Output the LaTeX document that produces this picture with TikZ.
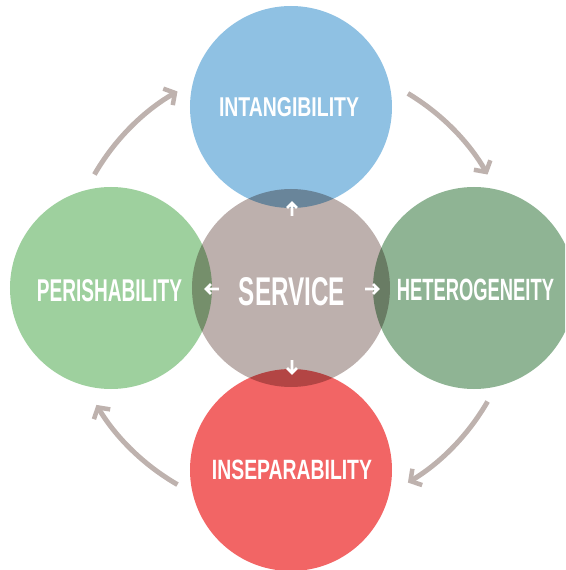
\documentclass[tikz,border=0pt]{standalone}
\usepackage{fontspec}
\setmainfont{Liberation Sans}
\usepackage{graphicx}
\usetikzlibrary{arrows.meta}

\definecolor{skyblue}{HTML}{8FC1E3}
\definecolor{leafgreen}{HTML}{9ED09E}
\definecolor{sagegreen}{HTML}{8FB494}
\definecolor{coralred}{HTML}{F26565}
\definecolor{taupe}{HTML}{BDB0AD}
\definecolor{cyclegrey}{HTML}{BEB2AE}

% condensed label: text stretched to a given width and cap height
\newcommand{\fitlabel}[3]{\resizebox{#1}{#2}{\bfseries #3}}

\begin{document}
\begin{tikzpicture}[x=1pt,y=1pt,
  petal/.style={circle, inner sep=0pt, minimum size=202pt},
  caption/.style={text=white, inner sep=0pt, anchor=center},
  cyclearrow/.style={draw=cyclegrey, line width=5pt,
    -{Straight Barb[length=8pt,width=19pt,line width=4.5pt]}},
  pointer/.style={draw=white, line width=2.6pt, line join=miter}]

\useasboundingbox (-291,-282) rectangle (274,288);
\clip (-291,-282) rectangle (274,288);

% the four characteristics
\node[petal, fill=skyblue]   (intang) at (0,181)  {};
\node[petal, fill=leafgreen] (perish) at (-180,0) {};
\node[petal, fill=sagegreen] (hetero) at (183,0)  {};
\node[petal, fill=coralred]  (insep)  at (0,-182) {};

\node[caption] (intangT) at (-2,180.5)   {\fitlabel{140pt}{19pt}{INTANGIBILITY}};
\node[caption] (perishT) at (-181.5,-2.5){\fitlabel{145pt}{22pt}{PERISHABILITY}};
\node[caption] (heteroT) at (184.5,-2)   {\fitlabel{157pt}{21.5pt}{HETEROGENEITY}};
\node[caption] (insepT)  at (1,-181.5)   {\fitlabel{160pt}{19.5pt}{INSEPARABILITY}};

% central circle, multiplied over its neighbours
\begin{scope}[blend mode=multiply]
  \fill[taupe] (0,0) circle (99);
\end{scope}
\node[petal] (svc) at (0,0) {};
\node[caption] (svcT) at (1,-4) {\fitlabel{106pt}{28pt}{SERVICE}};

% small pointers from the centre: shaft plus chevron head
\coordinate (upA)    at (1,72);   \coordinate (upB)    at (1,85);
\coordinate (leftA)  at (-72,-1); \coordinate (leftB)  at (-85,-1);
\coordinate (rightA) at (74,-1);  \coordinate (rightB) at (87,-1);
\coordinate (downA)  at (1,-72);  \coordinate (downB)  at (1,-85);
\draw[pointer] (upA) -- (upB) ++(-5,-5) -- (upB) -- ++(5,-5);
\draw[pointer] (leftA) -- (leftB) ++(5,-5) -- (leftB) -- ++(5,5);
\draw[pointer] (rightA) -- (rightB) ++(-5,-5) -- (rightB) -- ++(-5,5);
\draw[pointer] (downA) -- (downB) ++(-5,5) -- (downB) -- ++(5,5);

% clockwise cycle between the characteristics
\coordinate (c1) at (150:227);
\coordinate (c2) at (59:227);
\coordinate (c3) at (-30:227);
\coordinate (c4) at (-120:227);
\draw[cyclearrow] (c1) arc[start angle=150, end angle=120, radius=227];
\draw[cyclearrow] (c2) arc[start angle=59, end angle=30, radius=227];
\draw[cyclearrow] (c3) arc[start angle=-30, end angle=-59, radius=227];
\draw[cyclearrow] (c4) arc[start angle=-120, end angle=-149, radius=227];
\end{tikzpicture}
\end{document}
